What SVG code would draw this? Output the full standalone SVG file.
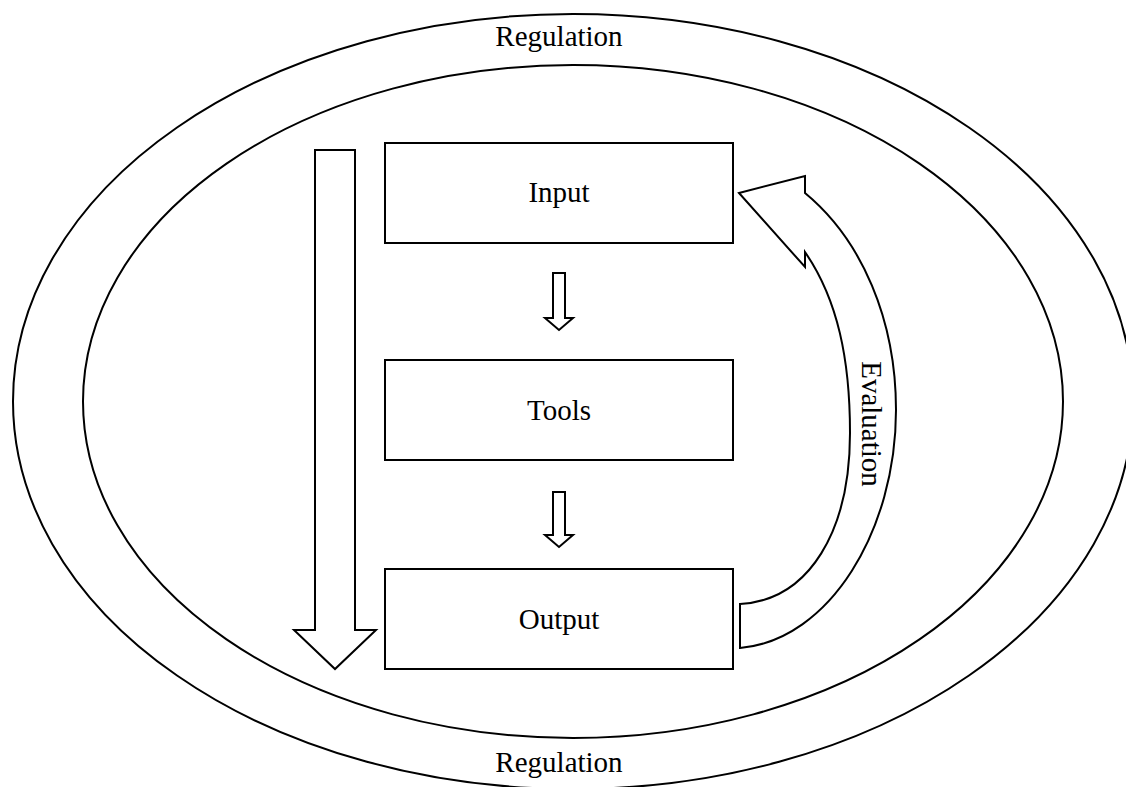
<svg xmlns="http://www.w3.org/2000/svg" width="1126" height="787" viewBox="0 0 1126 787">
<style>
.ln{fill:none;stroke:#000;stroke-width:2}
.bx{fill:#fff;stroke:#000;stroke-width:2}
.ar{fill:#fff;stroke:#000;stroke-width:2;stroke-linejoin:miter}
.t{font-family:"Liberation Serif","Times New Roman",serif;font-size:29px;fill:#000;text-anchor:middle}
</style>
<rect width="1126" height="787" fill="#fff"/>
<g id="regulation-outer">
<ellipse class="ln" cx="573" cy="401.5" rx="560" ry="387.5"/>
<text class="t" x="559" y="46">Regulation</text>
<text class="t" x="559" y="772">Regulation</text>
</g>
<g id="regulation-inner">
<ellipse class="ln" cx="573" cy="401.5" rx="490" ry="336.5"/>
</g>
<g id="input">
<rect class="bx" x="385" y="143" width="348" height="100"/>
<text class="t" x="559" y="202">Input</text>
</g>
<g id="tools">
<rect class="bx" x="385" y="360" width="348" height="100"/>
<text class="t" x="559" y="420">Tools</text>
</g>
<g id="output">
<rect class="bx" x="385" y="569" width="348" height="100"/>
<text class="t" x="559" y="629">Output</text>
</g>
<g id="connectors">
<path class="ar" d="M553,273 L565,273 L565,318 L573,318 L559,330 L545,318 L553,318 Z"/>
<path class="ar" d="M553,492 L565,492 L565,535 L573,535 L559,547 L545,535 L553,535 Z"/>
<path class="ar" d="M315,150 L355,150 L355,630 L376,630 L335,669 L294,630 L315,630 Z"/>
<g id="evaluation">
<path class="ar" d="M739,193 L805,176 L805,193 C862,240 896,320 896,410 C896,530 830,640 740,648 L740,604 C810,600 850,530 850,433 C850,360 838,300 805,252 L805,267 Z"/>
<text class="t" transform="translate(862,424) rotate(90)">Evaluation</text>
</g>
</g>
</svg>
